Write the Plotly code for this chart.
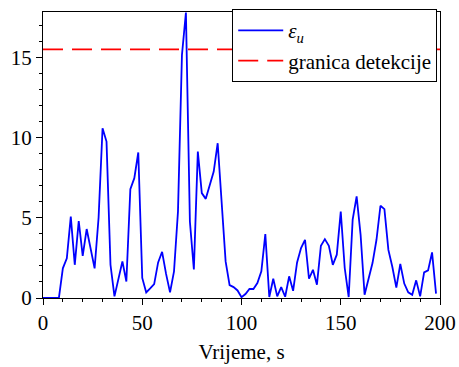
import plotly.graph_objects as go

time_s = list(range(0, 200, 2))
eps_u = [0, 0, 0, 0, 0,
         1.85, 2.47, 5.07, 2.07, 4.8, 2.63, 4.3, 3.1, 1.85, 5.0,
         10.58, 9.75, 2.07, 0.1, 1.14, 2.28, 1.03, 6.79, 7.47, 9.07,
         1.25, 0.35, 0.6, 0.87, 2.22, 2.88, 1.5, 0.35, 1.66, 5.39,
         15.15, 17.8, 4.77, 1.78, 9.13, 6.54, 6.18, 7.0, 7.88, 9.65,
         6.0, 2.28, 0.8, 0.68, 0.47, 0.05, 0.25, 0.56, 0.56, 0.93,
         1.66, 3.98, 0.06, 1.2, 0.1, 0.68, 0.08, 1.35, 0.45, 2.22,
         3.11, 3.63, 1.2, 1.76, 0.83, 3.26, 3.67, 3.26, 2.07, 2.7,
         5.39, 1.87, 0.06, 4.88, 6.33, 3.94, 0.2, 1.14, 2.18, 3.63,
         5.75, 5.54, 3.0, 1.93, 0.65, 2.12, 0.9, 0.35, 0.2, 1.1,
         0.1, 1.6, 1.72, 2.84, 0.27]
threshold_x = [0, 200]
threshold_y = [15.5, 15.5]

font = "Liberation Serif"

fig = go.Figure()
fig.add_trace(go.Scatter(x=time_s, y=eps_u, mode="lines",
                         line=dict(color="#0000ff", width=1.8),
                         name="<i>ε<sub>u</sub></i>"))
fig.add_trace(go.Scatter(x=threshold_x, y=threshold_y, mode="lines",
                         line=dict(color="#ff0000", width=1.6, dash="20px,9px"),
                         name="granica detekcije"))

axis_common = dict(showgrid=False, zeroline=False, showline=True, linecolor="black",
                   linewidth=1, mirror=True, ticks="outside", ticklen=6, tickcolor="black",
                   automargin=False,
                   tickfont=dict(family=font, size=21, color="black"))

fig.update_xaxes(range=[0, 200], tickvals=[0, 50, 100, 150, 200],
                 minor=dict(dtick=10, tick0=0, ticks="outside", ticklen=3, tickcolor="black"),
                 title=dict(text="Vrijeme, s", font=dict(family=font, size=21, color="black"), standoff=10),
                 **axis_common)
fig.update_yaxes(range=[0, 17.83], tickvals=[0, 5, 10, 15],
                 minor=dict(dtick=1, tick0=0, ticks="outside", ticklen=3, tickcolor="black"),
                 **axis_common)

fig.update_layout(width=459, height=367,
                  margin=dict(l=43, r=19, t=12, b=69, autoexpand=False),
                  plot_bgcolor="white", paper_bgcolor="white",
                  font=dict(family=font, color="black"),
                  legend=dict(x=0.993, y=1.01, xanchor="right", yanchor="top",
                              bgcolor="white", bordercolor="black", borderwidth=1,
                              font=dict(family=font, size=21, color="black"),
                              itemwidth=45, tracegroupgap=0))

fig.write_html("out.html")
